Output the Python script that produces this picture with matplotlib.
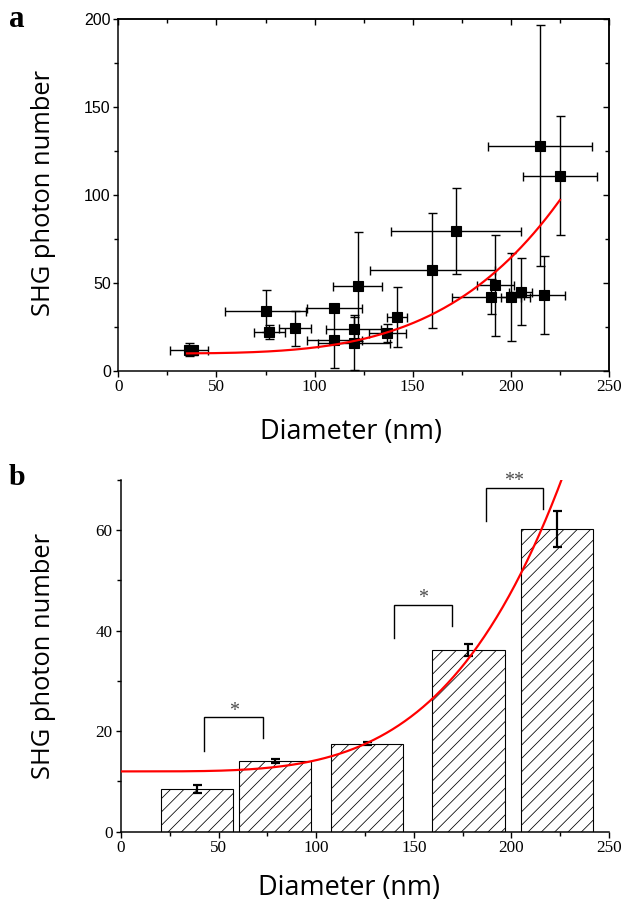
import matplotlib
matplotlib.use('Agg')
import matplotlib.pyplot as plt
import numpy as np
from matplotlib.ticker import MultipleLocator

DPI = 80
def pt(px):
    return px * 72.0 / DPI

# ---------------- Panel a data ----------------
a_diam = [36, 38, 75, 77, 90, 110, 110, 120, 120, 122, 137, 142, 160, 172, 190, 192, 200, 205, 217, 215, 225]
a_shg  = [12, 11.5, 34, 22, 24, 35.5, 17.5, 23.5, 15.5, 48, 21.5, 30.5, 57, 79.5, 42, 48.5, 42, 45, 43, 128, 111]
a_xerr = [9.5, 2, 20.5, 8, 8, 14, 14, 14, 18.5, 12.5, 9.5, 5, 32, 33, 20, 9.5, 5, 6, 10.5, 26.5, 19]
a_yerr = [3.5, 2.5, 12, 4, 10, 2, 16, 8, 15, 31, 5, 17, 32.5, 24.5, 10, 28.5, 25, 19, 22, 68.5, 34]
# power-law fit shown in panel a: y = y0 + A * d^n
a_fit_y0, a_fit_A, a_fit_n = 9.8, 3.406e-8, 4.0
a_fit_range = (35, 225)

# ---------------- Panel b data ----------------
b_centers = [39, 79, 126, 178, 223.5]
b_heights = [8.5, 14.1, 17.5, 36.1, 60.2]
b_err = [0.8, 0.4, 0.3, 1.2, 3.6]
b_width = 37
b_fit_y0, b_fit_A, b_fit_n = 12.0, 2.237e-8, 4.0
b_fit_range = (0, 250)
# brackets: x_left, x_right, y_left_end, y_right_end, y_top, label
b_brackets = [(42.7, 72.6, 16.1, 18.7, 22.8, '*'),
              (140.0, 169.4, 38.5, 41.0, 45.2, '*'),
              (187.0, 216.0, 61.9, 64.3, 68.5, '**')]

xticks = [0, 50, 100, 150, 200, 250]
a_yticks = [0, 50, 100, 150, 200]
b_yticks = [0, 20, 40, 60]

plt.rcParams['hatch.linewidth'] = 0.7
plt.rcParams['hatch.color'] = 'black'

fig = plt.figure(figsize=(624 / DPI, 905 / DPI), dpi=DPI)
W, H = 624.0, 905.0

serif = 'Liberation Serif'
sans = 'Liberation Sans'
label_font = 'Open Sans'

spine_w = pt(1.5)

# ---------------- Panel a ----------------
axa = fig.add_axes([118.3 / W, 1 - 370.7 / H, (609 - 118.3) / W, (370.7 - 19) / H])
axa.errorbar(a_diam, a_shg, xerr=a_xerr, yerr=a_yerr, fmt='s', color='black',
             ms=pt(10), elinewidth=pt(1.4), capsize=pt(4.5), capthick=pt(1.4),
             mec='black', mfc='black', zorder=2)
xf = np.linspace(a_fit_range[0], a_fit_range[1], 300)
axa.plot(xf, a_fit_y0 + a_fit_A * xf ** a_fit_n, color='#ff0000', lw=pt(2.2), zorder=3)
axa.set_xlim(0, 250)
axa.set_ylim(0, 200)
axa.set_xticks(xticks)
axa.set_yticks(a_yticks)
axa.xaxis.set_minor_locator(MultipleLocator(25))
axa.yaxis.set_minor_locator(MultipleLocator(25))
axa.tick_params(which='major', direction='out', length=pt(5.5), width=pt(1.4))
axa.tick_params(which='minor', direction='out', length=pt(4), width=pt(1.4))
axa.tick_params(axis='x', pad=pt(3))
axa.tick_params(axis='y', pad=pt(2))
for lab in axa.get_xticklabels():
    lab.set_fontfamily(serif); lab.set_fontsize(pt(17))
for lab in axa.get_yticklabels():
    lab.set_fontfamily(sans); lab.set_fontsize(pt(16))
for s in axa.spines.values():
    s.set_linewidth(spine_w)
sx = axa.secondary_xaxis('top')
sx.set_xticks(xticks)
sx.xaxis.set_minor_locator(MultipleLocator(25))
sx.tick_params(which='both', direction='in', labeltop=False, width=pt(1.4))
sx.tick_params(which='major', length=pt(5.5))
sx.tick_params(which='minor', length=pt(4))
sx.spines['top'].set_linewidth(spine_w)
sy = axa.secondary_yaxis('right')
sy.set_yticks(a_yticks)
sy.yaxis.set_minor_locator(MultipleLocator(25))
sy.tick_params(which='both', direction='in', labelright=False, width=pt(1.4))
sy.tick_params(which='major', length=pt(6.5))
sy.tick_params(which='minor', length=pt(4))
sy.spines['right'].set_linewidth(spine_w)

axa.set_xlabel('Diameter (nm)', fontfamily=label_font, fontsize=pt(27))
axa.xaxis.set_label_coords((351 - 118.3) / (609 - 118.3), (370.7 - 432) / 351.7)
axa.xaxis.label.set_va('center')
axa.set_ylabel('SHG photon number', fontfamily=label_font, fontsize=pt(25.5))
axa.yaxis.set_label_coords((44 - 118.3) / (609 - 118.3), 0.505)
axa.yaxis.label.set_va('center')

# ---------------- Panel b ----------------
axb = fig.add_axes([121 / W, 1 - 831.7 / H, (609 - 121) / W, (831.7 - 480) / H])
axb.bar(b_centers, b_heights, width=b_width, facecolor='white', edgecolor='black',
        linewidth=pt(1.1), hatch='//', zorder=1)
axb.errorbar(b_centers, b_heights, yerr=b_err, fmt='none', ecolor='black',
             elinewidth=pt(2.2), capsize=pt(4.5), capthick=pt(2.2), zorder=2)
xf2 = np.linspace(b_fit_range[0], b_fit_range[1], 400)
axb.plot(xf2, b_fit_y0 + b_fit_A * xf2 ** b_fit_n, color='#ff0000', lw=pt(2.2), zorder=3)
for xl, xr, yl, yr, yt, lab in b_brackets:
    axb.plot([xl, xl, xr, xr], [yl, yt, yt, yr], color='black', lw=pt(1.4),
             solid_joinstyle='miter', zorder=2)
    axb.text((xl + xr) / 2, yt + 0.25, lab, ha='center', va='baseline',
             fontfamily=serif, fontsize=pt(20), color='#4a4a4a')
axb.set_xlim(0, 250)
axb.set_ylim(0, 70)
axb.set_xticks(xticks)
axb.set_yticks(b_yticks)
axb.xaxis.set_minor_locator(MultipleLocator(25))
axb.yaxis.set_minor_locator(MultipleLocator(10))
axb.spines['top'].set_visible(False)
axb.spines['right'].set_visible(False)
for s in ('left', 'bottom'):
    axb.spines[s].set_linewidth(spine_w)
axb.tick_params(which='major', direction='out', length=pt(5.5), width=pt(1.4))
axb.tick_params(which='minor', direction='out', length=pt(4), width=pt(1.4))
axb.tick_params(axis='x', pad=pt(3))
axb.tick_params(axis='y', pad=pt(3))
for lab in axb.get_xticklabels() + axb.get_yticklabels():
    lab.set_fontfamily(serif); lab.set_fontsize(pt(17))
axb.set_xlabel('Diameter (nm)', fontfamily=label_font, fontsize=pt(27))
axb.xaxis.set_label_coords((349 - 121) / 488.0, (831.7 - 888) / 351.7)
axb.xaxis.label.set_va('center')
axb.set_ylabel('SHG photon number', fontfamily=label_font, fontsize=pt(25.5))
axb.yaxis.set_label_coords((44 - 121) / 488.0, 0.50)
axb.yaxis.label.set_va('center')

# panel letters
fig.text(9 / W, 1 - 27 / H, 'a', fontfamily=serif, fontweight='bold', fontsize=pt(31),
         ha='left', va='baseline')
fig.text(9 / W, 1 - 485 / H, 'b', fontfamily=serif, fontweight='bold', fontsize=pt(30),
         ha='left', va='baseline')

fig.savefig('out.png', dpi=DPI)
